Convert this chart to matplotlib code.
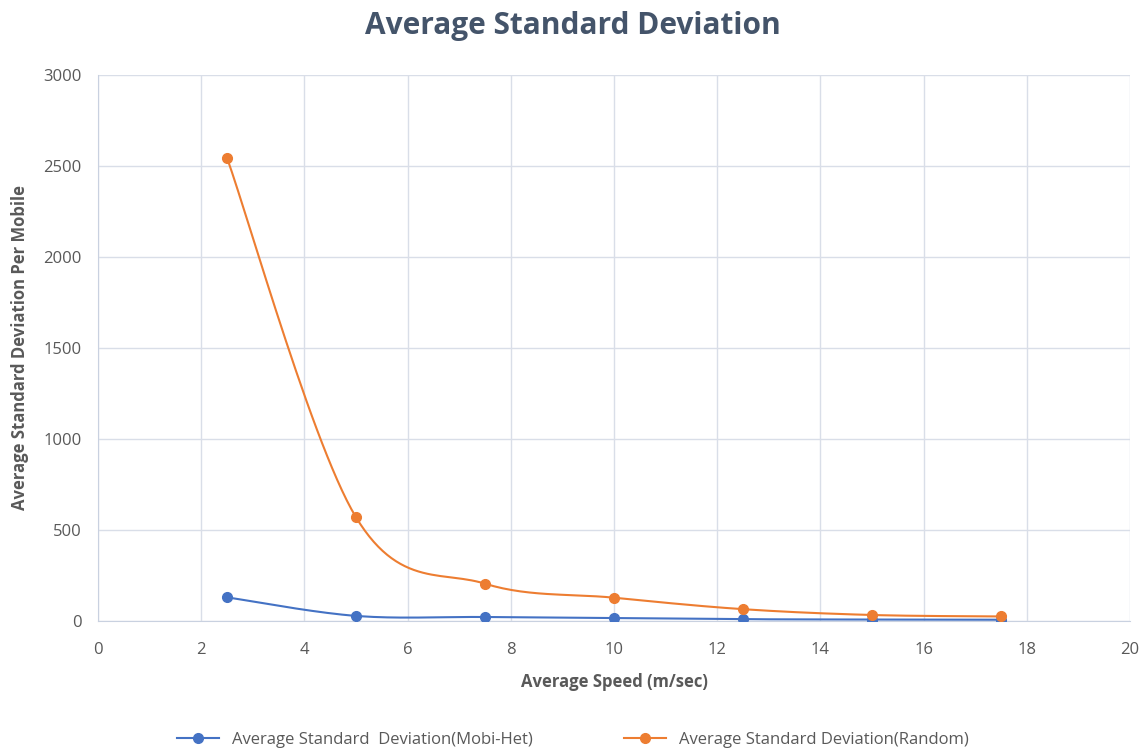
import matplotlib
matplotlib.use('Agg')
import matplotlib.pyplot as plt
import numpy as np

plt.rcParams['font.family'] = ['Open Sans', 'DejaVu Sans']

speed = [2.5, 5, 7.5, 10, 12.5, 15, 17.5]
mobi_het = [130, 28, 22, 16, 10, 8, 7]
random_sd = [2545, 570, 205, 128, 65, 33, 25]


def smooth(xs, ys, n=30):
    # Excel-style smoothed line: Catmull-Rom segments as cubic Bezier
    xs = np.asarray(xs, float)
    ys = np.asarray(ys, float)
    px = np.concatenate([[xs[0]], xs, [xs[-1]]])
    py = np.concatenate([[ys[0]], ys, [ys[-1]]])
    outx, outy = [], []
    t = np.linspace(0, 1, n)
    for i in range(1, len(px) - 2):
        p0 = np.array([px[i], py[i]])
        p3 = np.array([px[i + 1], py[i + 1]])
        c1 = p0 + (np.array([px[i + 1], py[i + 1]]) - np.array([px[i - 1], py[i - 1]])) / 6
        c2 = p3 - (np.array([px[i + 2], py[i + 2]]) - np.array([px[i], py[i]])) / 6
        pts = ((1 - t)[:, None] ** 3 * p0 + 3 * (1 - t)[:, None] ** 2 * t[:, None] * c1
               + 3 * (1 - t)[:, None] * t[:, None] ** 2 * c2 + t[:, None] ** 3 * p3)
        outx.extend(pts[:, 0])
        outy.extend(pts[:, 1])
    return outx, outy


fig = plt.figure(figsize=(11.46, 7.52), dpi=100)
ax = fig.add_axes([98 / 1146, 1 - 621 / 752, (1130 - 98) / 1146, (621 - 75) / 752])

blue = '#4472C4'
orange = '#ED7D31'

for ys, c, lab in [(mobi_het, blue, 'Average Standard  Deviation(Mobi-Het)'),
                   (random_sd, orange, 'Average Standard Deviation(Random)')]:
    sx, sy = smooth(speed, ys)
    ax.plot(sx, sy, color=c, lw=1.5, zorder=3)
    ax.plot(speed, ys, 'o', color=c, ms=7, zorder=4)
    ax.plot([], [], '-o', color=c, ms=7, lw=1.5, label=lab)

ax.set_xlim(0, 20)
ax.set_ylim(0, 3000)
ax.set_xticks(range(0, 21, 2))
ax.set_yticks(range(0, 3001, 500))
ax.grid(True, color='#D9DEE8', lw=1)
ax.set_axisbelow(True)
for s in ['top', 'right']:
    ax.spines[s].set_visible(False)
for s in ['left', 'bottom']:
    ax.spines[s].set_color('#C9D1E0')
ax.tick_params(length=0, labelsize=12, colors='#595959')
ax.tick_params(axis='x', pad=15)
ax.tick_params(axis='y', pad=12)

ax.set_xlabel('Average Speed (m/sec)', fontsize=12, fontweight='bold', color='#595959', labelpad=11)
ax.set_ylabel('Average Standard Deviation Per Mobile', fontsize=12, fontweight='bold', color='#595959', labelpad=10)
fig.text(0.5, 1 - 26 / 752, 'Average Standard Deviation', ha='center', va='center',
         fontsize=21.5, fontweight='bold', color='#44546A')

leg = fig.legend(loc='center', bbox_to_anchor=(0.5, 1 - 740 / 752), ncol=2, frameon=False,
                 fontsize=12, handlelength=2.5, columnspacing=5.5)
for t in leg.get_texts():
    t.set_color('#595959')

fig.savefig('out.png', dpi=100)
